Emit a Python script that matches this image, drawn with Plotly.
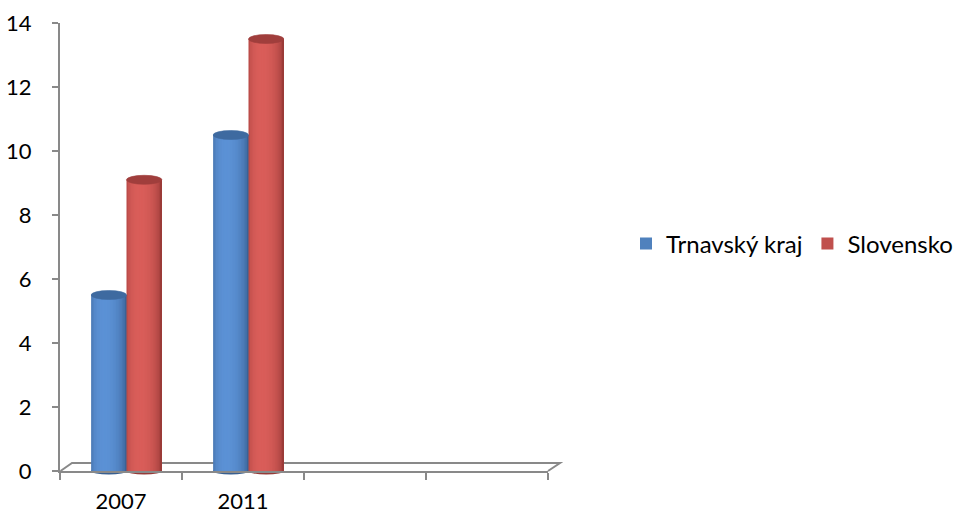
import numpy as np
import plotly.graph_objects as go

# ---- data ----
categories = ["2007", "2011", "", ""]
data_categories = ["2007", "2011"]
series_names = ["Trnavský kraj", "Slovensko"]
trnava_values = [5.5, 10.5]
slovensko_values = [9.1, 13.5]
y_ticks = [0, 2, 4, 6, 8, 10, 12, 14]

# ---- styling ----
W, H = 956, 516
ML, MR, MT, MB = 60, 408, 23, 45
PW, PH = W - ML - MR, H - MT - MB
YMAX = 14
FONT = "Lato, Carlito, Calibri, 'Open Sans', sans-serif"
GRAY = "#898989"

series_styles = [
    dict(light=(92, 146, 214), dark=(40, 72, 115), cap="rgb(62,106,160)", bottom="rgb(55,95,145)", legend="#4F81BD"),
    dict(light=(218, 94, 90), dark=(120, 40, 38), cap="rgb(160,62,60)", bottom="rgb(150,58,55)", legend="#C0504D"),
]
bar_w = 0.29
bar_offsets = [-0.245, 0.045]
N = 24

def shade(style, t):
    theta = np.arcsin(2 * t - 1)
    b = 0.25 + 0.75 * max(0.0, np.cos(theta + 0.25))
    b = b ** 0.8
    lo, hi = np.array(style["dark"]), np.array(style["light"])
    c = lo + (hi - lo) * b
    return "rgb(%d,%d,%d)" % tuple(c.astype(int))

fig = go.Figure()
ncat = len(categories)
x_pos = [categories.index(c) for c in data_categories]
series_values = [trnava_values, slovensko_values]

for si, (name, vals) in enumerate(zip(series_names, series_values)):
    st = series_styles[si]
    off0 = bar_offsets[si]
    sw = bar_w / N
    for k in range(N):
        t = (k + 0.5) / N
        fig.add_trace(go.Bar(
            x=x_pos, y=vals,
            width=sw * 1.6 if k < N - 1 else sw,
            offset=off0 + k * sw,
            marker=dict(color=shade(st, t), line=dict(width=0)),
            showlegend=False, hoverinfo="skip",
        ))
    fig.add_trace(go.Scatter(
        x=[None], y=[None], mode="markers", name=name,
        marker=dict(symbol="square", size=14, color=st["legend"]),
    ))

cap_h = 4.5 / (PH / YMAX)
for si, vals in enumerate(series_values):
    st = series_styles[si]
    off0 = bar_offsets[si]
    for xi, v in zip(x_pos, vals):
        x0 = xi + off0
        x1 = x0 + bar_w
        fig.add_shape(type="circle", xref="x", yref="y",
                      x0=x0, x1=x1, y0=v - cap_h, y1=v + cap_h,
                      fillcolor=st["cap"], line=dict(width=0.6, color=st["cap"]), layer="above")
        px0 = (x0 + 0.5) / ncat
        px1 = (x1 + 0.5) / ncat
        fig.add_shape(type="circle", xref="paper", yref="paper",
                      x0=px0, x1=px1, y0=-3.5 / PH, y1=3.5 / PH,
                      fillcolor=st["bottom"], line=dict(width=0), layer="below")

def px(x):
    return (x - ML) / PW

def py(y):
    return (H - MB - y) / PH

floor_pts = [(60.5, 471), (72, 463), (560, 463), (548, 471)]
path = "M %f,%f L %f,%f L %f,%f L %f,%f" % tuple(
    v for p in floor_pts for v in (px(p[0]), py(p[1]))
)
fig.add_shape(type="path", xref="paper", yref="paper", path=path,
              line=dict(color=GRAY, width=2), layer="below")

label_pos = [i for i, c in enumerate(categories) if c]
label_txt = [c for c in categories if c]

fig.update_layout(
    width=W, height=H,
    margin=dict(l=ML, r=MR, t=MT, b=MB, autoexpand=False),
    paper_bgcolor="white", plot_bgcolor="white",
    barmode="overlay",
    font=dict(family=FONT, size=22, color="black"),
    showlegend=True,
    legend=dict(orientation="h", x=px(626), y=py(244), xanchor="left", yanchor="middle",
                font=dict(size=24, color="black"), itemsizing="constant",
                itemwidth=30, tracegroupgap=0, bgcolor="rgba(0,0,0,0)"),
    xaxis=dict(range=[-0.5, ncat - 0.5],
               tickvals=[i - 0.5 for i in range(ncat + 1)], showticklabels=False,
               ticks="outside", ticklen=7, tickwidth=2, tickcolor=GRAY,
               showline=True, linecolor=GRAY, linewidth=2, showgrid=False,
               zeroline=False, automargin=False, fixedrange=True),
    xaxis2=dict(range=[-0.5, ncat - 0.5], overlaying="x", side="bottom",
                tickvals=label_pos, ticktext=label_txt, ticks="",
                showline=False, showgrid=False, zeroline=False, automargin=False,
                ticklabelstandoff=15, tickfont=dict(size=22, color="black"),
                fixedrange=True),
    yaxis=dict(range=[0, YMAX], tickvals=y_ticks, ticks="outside", ticklen=6,
               tickwidth=2, tickcolor=GRAY, showline=True, linecolor=GRAY,
               linewidth=2, showgrid=False, zeroline=False, automargin=False,
               ticklabelstandoff=16, tickfont=dict(size=22, color="black"),
               fixedrange=True),
)
fig.add_trace(go.Scatter(x=[None], y=[None], xaxis="x2", showlegend=False, hoverinfo="skip"))

fig.write_html("out.html")
